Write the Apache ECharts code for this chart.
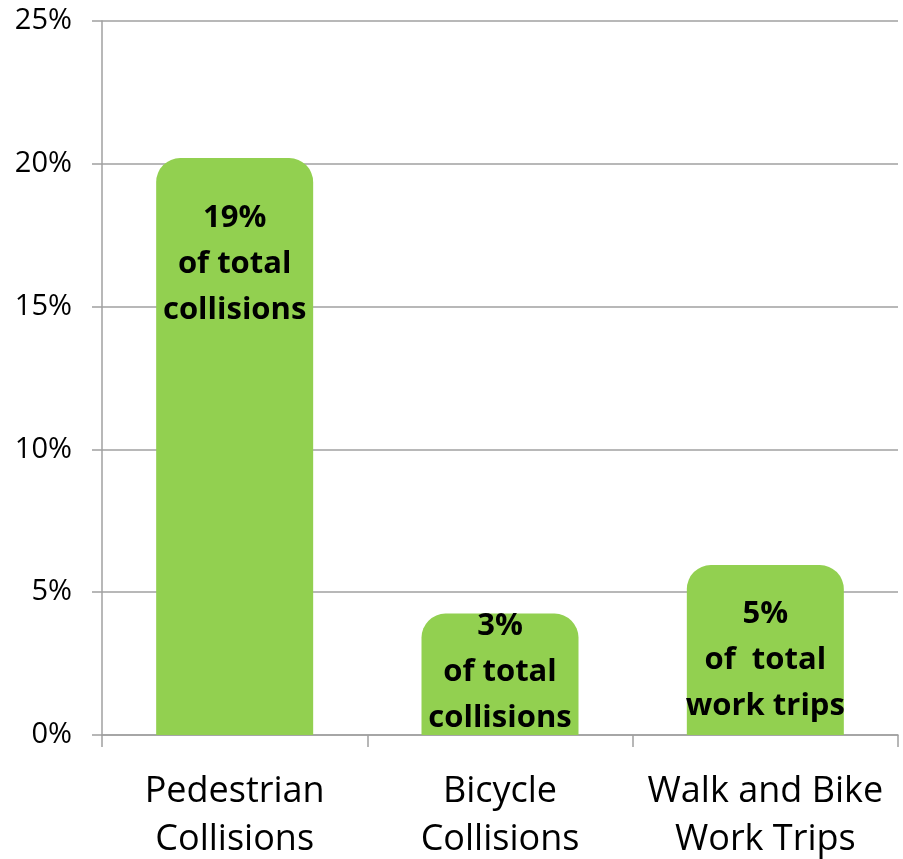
<!DOCTYPE html>
<html>
<head>
<meta charset="utf-8">
<script src="https://cdn.jsdelivr.net/npm/echarts@6/dist/echarts.min.js"></script>
<style>
  html, body { margin: 0; padding: 0; background: #fff; }
  #chart { width: 903px; height: 859px; }
</style>
</head>
<body>
<div id="chart"></div>
<script>
// data
let categories = ["Pedestrian\nCollisions", "Bicycle\nCollisions", "Walk and Bike\nWork Trips"];
let values = [20.2, 4.25, 5.95];
let barLabels = ["19%\nof total\ncollisions", "3%\nof total\ncollisions", "5%\nof  total\nwork trips"];
let labelOffsets = [37, -10, 26];   // shift of the label from bar top
let yTicks = [0, 5, 10, 15, 20, 25];

let chart = {
    init:()=>{
        let myChart = echarts.init(document.getElementById('chart'));
        let grey = '#a0a0a0';

        let seriesData = values.map((v, i)=>{
            return {
                value: v,
                label: {
                    formatter: barLabels[i],
                    offset: [0, labelOffsets[i]]
                }
            };
        });

        let option = {
            animation: false,
            textStyle: { fontFamily: 'Open Sans' },
            grid: { left: 102, right: 5, top: 21, bottom: 124, containLabel: false, outerBoundsMode: 'none' },
            xAxis: {
                type: 'category',
                data: categories,
                axisLine: { show: true, lineStyle: { color: grey, width: 1.5 } },
                axisTick: { show: true, length: 12, lineStyle: { color: grey, width: 1.5 } },
                axisLabel: {
                    interval: 0,
                    color: '#000', fontSize: 36, lineHeight: 48, margin: 33,
                    fontFamily: 'Open Sans'
                }
            },
            yAxis: {
                type: 'value',
                min: yTicks[0],
                max: yTicks[yTicks.length - 1],
                interval: 5,
                axisLine: { show: true, lineStyle: { color: grey, width: 1.5 } },
                axisTick: { show: true, length: 10, lineStyle: { color: grey, width: 1.5 } },
                splitLine: { show: true, lineStyle: { color: grey, width: 1.5 } },
                axisLabel: {
                    color: '#000', fontSize: 29, margin: 30,
                    formatter: '{value}%'
                }
            },
            series: [
                {
                    type: 'bar',
                    data: seriesData,
                    barWidth: 157,
                    itemStyle: { color: '#92d050', borderRadius: [24, 24, 0, 0] },
                    label: {
                        show: true,
                        position: 'insideTop',
                        distance: 0,
                        color: '#000',
                        fontWeight: 'bold',
                        fontSize: 31,
                        lineHeight: 46,
                        fontFamily: 'Open Sans',
                        align: 'center'
                    }
                }
            ]
        };
        myChart.setOption(option);
    }//init-------end
}

chart.init();
</script>
</body>
</html>
